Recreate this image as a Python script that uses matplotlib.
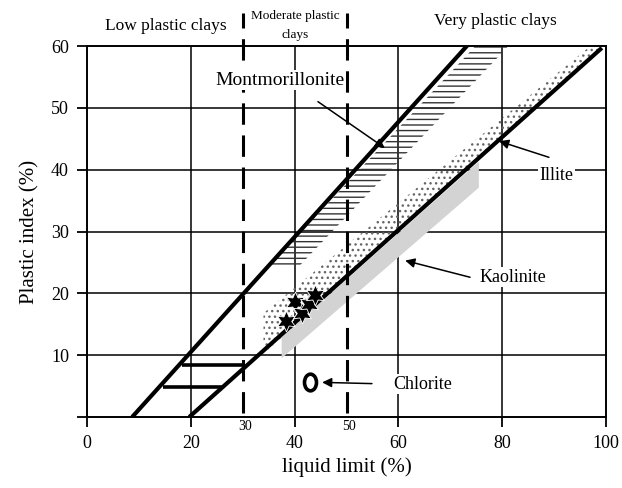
import matplotlib.pyplot as plt
from matplotlib.path import Path
from matplotlib.transforms import Affine2D

plt.rcParams['font.family'] = ['Liberation Serif', 'DejaVu Serif']

# boundary lines (liquid limit, plastic index)
u_line_ll = [8.7, 73.4]
u_line_pi = [0, 60.2]
a_line_ll = [19.7, 99.2]
a_line_pi = [0, 59.7]

# small horizontal bars between the two lines
bar_pi = [8.4, 4.9]
bar_ll_start = [18.3, 14.6]
bar_ll_end = [30.4, 26.2]

# clay zones (polygon outlines)
montmo_ll = [35.2, 41.0, 81.0, 74.6]
montmo_pi = [24.5, 24.5, 59.8, 59.8]
illite_ll = [34.0, 34.0, 97.0, 99.5, 99.2]
illite_pi = [10.2, 16.8, 60.0, 60.0, 59.7]
kaol_ll = [37.5, 37.5, 75.5, 75.5]
kaol_pi = [9.5, 12.9, 41.3, 37.1]

# samples
sample_ll = [38.3, 40.1, 41.5, 42.8, 44.0]
sample_pi = [15.6, 18.6, 16.8, 18.2, 19.7]
chlorite_ll = [43.0]
chlorite_pi = [5.7]

# class limits
class_limits = [30, 50]
x_ticks = [0, 20, 40, 60, 80, 100]
y_ticks = [0, 10, 20, 30, 40, 50, 60]
y_labels = ['', '10', '20', '30', '40', '50', '60']
grid_x = [20, 40, 60, 80]
grid_y = [10, 20, 30, 40, 50]

fig = plt.figure(figsize=(6.22, 4.88), dpi=100)
ax = fig.add_axes([0.1399, 0.1455, 0.8344, 0.7602])
ax.set_xlim(0, 100)
ax.set_ylim(0, 60)

# grid
for gx in grid_x:
    ax.axvline(gx, color='black', lw=1.1, zorder=1)
for gy in grid_y:
    ax.axhline(gy, color='black', lw=1.1, zorder=1)

# zones
ax.fill(kaol_ll, kaol_pi, color='#d3d3d3', lw=0, zorder=2)
ax.fill(illite_ll, illite_pi, facecolor='none', edgecolor='#666666', hatch='...', lw=0, zorder=2)
ax.fill(montmo_ll, montmo_pi, facecolor='none', edgecolor='#333333', hatch='---', lw=0, zorder=2)

# main lines
ax.plot(u_line_ll, u_line_pi, color='black', lw=3, solid_capstyle='butt', zorder=4)
ax.plot(a_line_ll, a_line_pi, color='black', lw=3, solid_capstyle='butt', zorder=4)
for p, s, e in zip(bar_pi, bar_ll_start, bar_ll_end):
    ax.plot([s, e], [p, p], color='black', lw=2.6, solid_capstyle='butt', zorder=4)

# dashed class limits, reaching up into the title strip
for cl in class_limits:
    ax.plot([cl, cl], [0.6, 65.3], color='black', lw=2.2, dashes=(7, 3.5), clip_on=False, zorder=5)

# samples
ax.plot(sample_ll, sample_pi, ls='none', marker=(6, 1, 0), ms=15, color='black', mec='white', mew=0.6, zorder=6)
oval = Path.unit_circle().transformed(Affine2D().scale(0.72, 1.0))
ax.plot(chlorite_ll, chlorite_pi, ls='none', marker=oval, ms=12, mfc='none', mec='black', mew=2.6, zorder=6)

# labels with arrows
box = dict(facecolor='white', edgecolor='none', pad=1)
arrow = dict(arrowstyle='-|>', color='black', lw=1.1, mutation_scale=14, shrinkA=0, shrinkB=0)
ax.text(37.2, 54.5, 'Montmorillonite', fontsize=14, ha='center', va='center', bbox=box, zorder=7)
ax.annotate('', xy=(57.4, 43.5), xytext=(44.5, 51.0), arrowprops=arrow, zorder=7)
ax.text(90.5, 39.0, 'Illite', fontsize=13, ha='center', va='center', bbox=box, zorder=7)
ax.annotate('', xy=(79.4, 44.6), xytext=(89.0, 42.0), arrowprops=arrow, zorder=7)
ax.text(82.0, 22.6, 'Kaolinite', fontsize=13, ha='center', va='center', bbox=box, zorder=7)
ax.annotate('', xy=(61.3, 25.3), xytext=(73.8, 22.6), arrowprops=arrow, zorder=7)
ax.text(64.7, 5.3, 'Chlorite', fontsize=13, ha='center', va='center', bbox=box, zorder=7)
ax.annotate('', xy=(45.3, 5.6), xytext=(54.9, 5.4), arrowprops=arrow, zorder=7)

# zone titles above the frame
ax.text(15.2, 63.3, 'Low plastic clays', fontsize=12.5, ha='center', va='center', clip_on=False)
ax.text(40.1, 64.9, 'Moderate plastic', fontsize=9.5, ha='center', va='center', clip_on=False)
ax.text(40.1, 61.8, 'clays', fontsize=9.5, ha='center', va='center', clip_on=False)
ax.text(78.6, 64.1, 'Very plastic clays', fontsize=12.5, ha='center', va='center', clip_on=False)

# class limit values under the axis
for cl in class_limits:
    ax.text(cl + 0.4, -1.6, str(cl), fontsize=10, ha='center', va='center', clip_on=False)

ax.set_xticks(x_ticks)
ax.set_yticks(y_ticks)
ax.set_yticklabels(y_labels)
ax.tick_params(direction='out', length=7, width=1.3, labelsize=13, pad=6)
ax.set_xlabel('liquid limit (%)', fontsize=15, labelpad=4)
ax.set_ylabel('Plastic index (%)', fontsize=15, labelpad=8)
for sp in ax.spines.values():
    sp.set_linewidth(1.4)

fig.savefig('out.png', dpi=100)
